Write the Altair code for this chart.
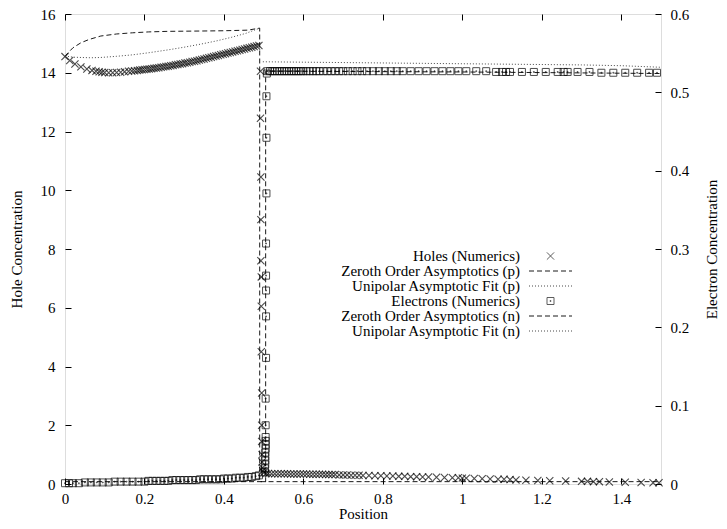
import altair as alt
import pandas as pd

FONT = "Liberation Serif"

# ---------------- data ----------------
# Holes (numerics), left axis
hole_x = [0.000, 0.012, 0.025, 0.040, 0.055, 0.068, 0.078, 0.086, 0.093, 0.100,
          0.110, 0.120, 0.130, 0.140, 0.150, 0.160, 0.168, 0.175, 0.182, 0.188,
          0.194, 0.200, 0.206, 0.212, 0.218, 0.224, 0.230, 0.236, 0.242, 0.248,
          0.254, 0.260, 0.266, 0.272, 0.278, 0.284, 0.290, 0.296, 0.302, 0.308,
          0.314, 0.320, 0.326, 0.332, 0.338, 0.344, 0.350, 0.356, 0.362, 0.368,
          0.374, 0.380, 0.386, 0.392, 0.398, 0.404, 0.410, 0.416, 0.422, 0.428,
          0.434, 0.440, 0.446, 0.452, 0.458, 0.464, 0.470, 0.476, 0.482, 0.488,
          0.492, 0.492, 0.493, 0.493, 0.493, 0.494, 0.494, 0.494, 0.495, 0.495,
          0.495, 0.496, 0.496, 0.497, 0.498,
          0.500, 0.506, 0.512, 0.520, 0.528, 0.536, 0.544, 0.552, 0.560, 0.568,
          0.576, 0.584, 0.592, 0.600, 0.608, 0.616, 0.624, 0.632, 0.640, 0.648,
          0.656, 0.664, 0.672, 0.680, 0.690, 0.700, 0.710, 0.720, 0.730, 0.740,
          0.750, 0.765, 0.780, 0.795, 0.810, 0.825, 0.840, 0.855, 0.870, 0.885,
          0.900, 0.915, 0.935, 0.955, 0.975, 0.990, 1.000, 1.010, 1.030, 1.050,
          1.070, 1.090, 1.105, 1.120, 1.135, 1.160, 1.190, 1.220, 1.260, 1.300,
          1.315, 1.330, 1.345, 1.370, 1.410, 1.450, 1.480, 1.495]
hole_p = [14.55, 14.42, 14.30, 14.20, 14.13, 14.08, 14.05, 14.03, 14.02, 14.01,
          14.00, 14.00, 14.01, 14.02, 14.03, 14.05, 14.06, 14.07, 14.08, 14.09,
          14.10, 14.11, 14.12, 14.13, 14.14, 14.15, 14.16, 14.17, 14.19, 14.20,
          14.21, 14.22, 14.24, 14.25, 14.27, 14.28, 14.30, 14.31, 14.33, 14.34,
          14.36, 14.38, 14.39, 14.41, 14.43, 14.45, 14.47, 14.49, 14.51, 14.53,
          14.55, 14.57, 14.59, 14.61, 14.63, 14.65, 14.67, 14.69, 14.71, 14.73,
          14.75, 14.77, 14.79, 14.81, 14.83, 14.85, 14.87, 14.89, 14.91, 14.93,
          14.05, 12.45, 10.45, 9.00, 7.60, 7.05, 6.05, 4.50, 3.10, 2.00,
          1.45, 1.00, 0.75, 0.55, 0.45,
          0.38, 0.36, 0.36, 0.35, 0.35, 0.35, 0.35, 0.35, 0.35, 0.34,
          0.34, 0.34, 0.34, 0.34, 0.34, 0.33, 0.33, 0.33, 0.33, 0.33,
          0.32, 0.32, 0.32, 0.32, 0.31, 0.31, 0.31, 0.30, 0.30, 0.30,
          0.29, 0.29, 0.28, 0.28, 0.27, 0.27, 0.26, 0.26, 0.25, 0.25,
          0.24, 0.24, 0.23, 0.22, 0.21, 0.21, 0.20, 0.20, 0.19, 0.18,
          0.17, 0.16, 0.16, 0.15, 0.14, 0.13, 0.12, 0.11, 0.10, 0.09,
          0.09, 0.08, 0.08, 0.07, 0.06, 0.05, 0.04, 0.04]

# Zeroth order asymptotics (p), left axis
p0_x = [0.000, 0.005, 0.020, 0.040, 0.060, 0.090, 0.130, 0.170, 0.210, 0.260,
        0.340, 0.400, 0.460, 0.490, 0.490, 1.500]
p0_y = [14.55, 14.64, 14.85, 15.02, 15.13, 15.25, 15.32, 15.36, 15.39, 15.41,
        15.42, 15.43, 15.45, 15.52, 0.08, 0.08]

# Unipolar asymptotic fit (p), left axis
pf_x = [0.000, 0.020, 0.040, 0.065, 0.090, 0.130, 0.170, 0.210, 0.260, 0.300,
        0.340, 0.380, 0.420, 0.455, 0.490]
pf_y = [14.57, 14.53, 14.52, 14.51, 14.52, 14.56, 14.61, 14.68, 14.78, 14.87,
        14.97, 15.08, 15.21, 15.34, 15.52]

# Electrons (numerics), right axis
elec_x = [0.000, 0.010, 0.020, 0.035, 0.050, 0.065, 0.080, 0.095, 0.110, 0.125,
          0.140, 0.155, 0.170, 0.185, 0.200, 0.210, 0.220, 0.230, 0.240, 0.250,
          0.260, 0.270, 0.280, 0.290, 0.300, 0.310, 0.320, 0.330, 0.340, 0.350,
          0.360, 0.370, 0.380, 0.390, 0.400, 0.410, 0.420, 0.430, 0.440, 0.450,
          0.460, 0.470, 0.480, 0.488,
          0.503, 0.503, 0.504, 0.504, 0.504, 0.504, 0.505, 0.505, 0.505, 0.505,
          0.505, 0.505, 0.506, 0.506, 0.506, 0.506, 0.506, 0.507, 0.507, 0.507,
          0.508,
          0.510, 0.516, 0.522, 0.528, 0.534, 0.540, 0.546, 0.552, 0.558, 0.564,
          0.570, 0.576, 0.582, 0.588, 0.594, 0.600, 0.608, 0.616, 0.624, 0.632,
          0.640, 0.650, 0.660, 0.670, 0.680, 0.690, 0.700, 0.712, 0.724, 0.736,
          0.748, 0.760, 0.775, 0.790, 0.805, 0.820, 0.835, 0.850, 0.870, 0.890,
          0.910, 0.930, 0.950, 0.970, 0.990, 1.010, 1.035, 1.060, 1.085, 1.100,
          1.110, 1.120, 1.150, 1.180, 1.210, 1.240, 1.255, 1.265, 1.290, 1.320,
          1.350, 1.380, 1.410, 1.440, 1.470, 1.490]
elec_n = [0.001, 0.001, 0.001, 0.001, 0.002, 0.002, 0.002, 0.002, 0.002, 0.003,
          0.003, 0.003, 0.003, 0.003, 0.003, 0.004, 0.004, 0.004, 0.004, 0.004,
          0.004, 0.005, 0.005, 0.005, 0.005, 0.005, 0.005, 0.005, 0.006, 0.006,
          0.006, 0.006, 0.006, 0.006, 0.007, 0.007, 0.007, 0.008, 0.008, 0.008,
          0.009, 0.009, 0.010, 0.011,
          0.015, 0.020, 0.025, 0.030, 0.035, 0.040, 0.045, 0.050, 0.055, 0.060,
          0.075, 0.109, 0.161, 0.214, 0.247, 0.266, 0.307, 0.371, 0.442, 0.495,
          0.524,
          0.527, 0.527, 0.527, 0.527, 0.527, 0.527, 0.527, 0.527, 0.527, 0.527,
          0.527, 0.527, 0.527, 0.527, 0.527, 0.527, 0.527, 0.527, 0.527, 0.527,
          0.527, 0.527, 0.527, 0.527, 0.527, 0.527, 0.527, 0.527, 0.527, 0.527,
          0.527, 0.527, 0.527, 0.527, 0.527, 0.527, 0.527, 0.527, 0.527, 0.527,
          0.527, 0.527, 0.527, 0.527, 0.527, 0.527, 0.527, 0.527, 0.526, 0.526,
          0.526, 0.526, 0.526, 0.526, 0.526, 0.526, 0.526, 0.526, 0.526, 0.526,
          0.525, 0.525, 0.525, 0.525, 0.525, 0.525]

# Zeroth order asymptotics (n), right axis
n0_x = [0.000, 0.505, 0.505, 1.000, 1.500]
n0_y = [0.003, 0.003, 0.527, 0.526, 0.524]

# Unipolar asymptotic fit (n), right axis
nf_x = [0.498, 0.700, 0.900, 1.100, 1.300, 1.400, 1.500]
nf_y = [0.539, 0.538, 0.537, 0.536, 0.535, 0.534, 0.532]

x_ticks = [0, 0.2, 0.4, 0.6, 0.8, 1, 1.2, 1.4]
hole_ticks = [0, 2, 4, 6, 8, 10, 12, 14, 16]
elec_ticks = [0, 0.1, 0.2, 0.3, 0.4, 0.5, 0.6]

legend_labels = ["Holes (Numerics)", "Zeroth Order Asymptotics (p)",
                 "Unipolar Asymptotic Fit (p)", "Electrons (Numerics)",
                 "Zeroth Order Asymptotics (n)", "Unipolar Asymptotic Fit (n)"]

# ---------------- styling ----------------
W, H = 596, 470
FS = 15
XPATH = "M-1,-1L1,1M-1,1L1,-1"
SQPATH = "M-1,-1L1,-1L1,1L-1,1Z M-0.12,-0.12L0.12,-0.12L0.12,0.12L-0.12,0.12Z"
DASH = [5, 3]
DOT = [1, 2]


def frame(xs, ys):
    return pd.DataFrame({"x": xs, "y": ys, "i": list(range(len(xs)))})


xscale = alt.Scale(domain=[0, 1.5], nice=False, zero=False)
hscale = alt.Scale(domain=[0, 16], nice=False)
escale = alt.Scale(domain=[0, 0.6], nice=False)

common_axis = dict(domain=False, grid=False, tickSize=6, offset=-6,
                   tickColor="black", tickWidth=1, labelFlush=False,
                   labelFont=FONT, titleFont=FONT, labelFontSize=FS,
                   titleFontSize=FS, labelColor="black", titleColor="black",
                   titleFontWeight="normal")

x_bottom = alt.X("x:Q", scale=xscale, title="Position",
                 axis=alt.Axis(values=x_ticks, format="~g", orient="bottom",
                               labelPadding=7, titlePadding=0, **common_axis))
x_top = alt.X("x:Q", scale=xscale, title=None,
              axis=alt.Axis(values=x_ticks, labels=False, orient="top",
                            **common_axis))
x_plain = alt.X("x:Q", scale=xscale, axis=None)

y_left = alt.Y("y:Q", scale=hscale, title="Hole Concentration",
               axis=alt.Axis(values=hole_ticks, format="~g", orient="left",
                             labelPadding=10, titlePadding=16, **common_axis))
y_right = alt.Y("y:Q", scale=escale, title="Electron Concentration",
                axis=alt.Axis(values=elec_ticks, format="~g", orient="right",
                              labelPadding=9, titlePadding=31, titleAngle=270,
                              **common_axis))
y_h = alt.Y("y:Q", scale=hscale, axis=None)
y_e = alt.Y("y:Q", scale=escale, axis=None)

holes = alt.Chart(frame(hole_x, hole_p)).mark_point(
    shape=XPATH, size=52, filled=False, color="black", strokeWidth=1.1
).encode(x=x_bottom, y=y_left)

p0 = alt.Chart(frame(p0_x, p0_y)).mark_line(
    color="black", strokeWidth=0.9, strokeDash=DASH
).encode(x=x_plain, y=y_h, order="i:Q")

pf = alt.Chart(frame(pf_x, pf_y)).mark_line(
    color="#333333", strokeWidth=0.9, strokeDash=DOT
).encode(x=x_plain, y=y_h, order="i:Q")

elec = alt.Chart(frame(elec_x, elec_n)).mark_point(
    shape=SQPATH, size=49, filled=False, color="black", strokeWidth=1.0
).encode(x=x_top, y=y_right)

n0 = alt.Chart(frame(n0_x, n0_y)).mark_line(
    color="black", strokeWidth=0.9, strokeDash=DASH
).encode(x=x_plain, y=y_e, order="i:Q")

nf = alt.Chart(frame(nf_x, nf_y)).mark_line(
    color="#333333", strokeWidth=0.9, strokeDash=DOT
).encode(x=x_plain, y=y_e, order="i:Q")

# ---------------- key (gnuplot style: text left, sample right) ----------------
KEY_TEXT_X = 455
KEY_SAMPLE_X1, KEY_SAMPLE_X2 = 464, 507
KEY_TOP, KEY_STEP = 242, 15

key_df = pd.DataFrame({"label": legend_labels, "row": list(range(len(legend_labels)))})
key_text = alt.Chart(key_df).transform_calculate(
    py=f"{KEY_TOP} + {KEY_STEP} * datum.row"
).mark_text(align="right", baseline="middle", font=FONT, fontSize=FS,
            color="black").encode(
    x=alt.value(KEY_TEXT_X), y=alt.Y("py:Q", scale=None), text="label:N")

key_layers = [key_text]
for row, kind in [(0, "x"), (1, "dash"), (2, "dot"), (3, "sq"), (4, "dash"), (5, "dot")]:
    one = pd.DataFrame({"row": [row]})
    ypix = alt.value(KEY_TOP + KEY_STEP * row)
    if kind in ("x", "sq"):
        key_layers.append(alt.Chart(one).mark_point(
            shape=XPATH if kind == "x" else SQPATH, size=52 if kind == "x" else 49,
            filled=False, color="black", strokeWidth=0.9
        ).encode(x=alt.value((KEY_SAMPLE_X1 + KEY_SAMPLE_X2) / 2), y=ypix))
    else:
        key_layers.append(alt.Chart(one).mark_rule(
            color="black" if kind == "dash" else "#333333", strokeWidth=0.9,
            strokeDash=DASH if kind == "dash" else DOT
        ).encode(x=alt.value(KEY_SAMPLE_X1), x2=alt.value(KEY_SAMPLE_X2), y=ypix))

chart = alt.layer(holes, p0, pf, elec, n0, nf, *key_layers).resolve_scale(
    y="independent"
).resolve_axis(
    x="independent", y="independent"
).properties(
    width=W, height=H,
    autosize=alt.AutoSizeParams(type="none"),
    padding={"left": 57, "top": 6, "right": 58, "bottom": 37},
).configure_view(
    stroke="black", strokeWidth=1
).configure(background="white")

chart.save("out.html", embed_options={"renderer": "svg", "actions": False})
